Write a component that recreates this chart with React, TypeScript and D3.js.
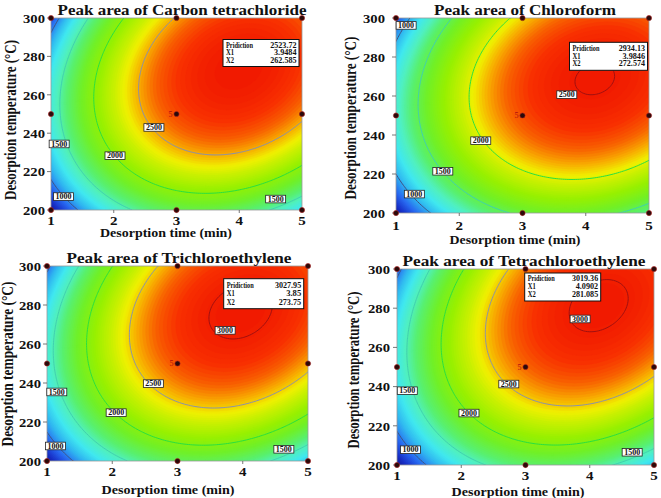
import React, { useMemo } from "react";
import * as d3 from "d3";

// ---------- data ----------
const timeTicks = [1, 2, 3, 4, 5];
const tempTicks = [200, 220, 240, 260, 280, 300];
const contourLevels = [1000, 1500, 2000, 2500, 3000];
const designTimes = [1, 3, 5];
const designTemps = [200, 250, 300];
const centerReplicates = "5";

const titles = [
  "Peak area of Carbon tetrachloride",
  "Peak area of Chloroform",
  "Peak area of Trichloroethylene",
  "Peak area of Tetrachloroethylene",
];

// readings off the contour map: [time (min), temperature (°C), peak area]
const ccl4Readings = [
  [2.89, 300, 2500], [2.37, 267, 2500], [2.65, 243, 2500], [2.99, 234, 2500], [3.69, 230.6, 2500], [5, 247, 2500],
  [2.14, 300, 2000], [1.61, 260, 2000], [2.04, 228, 2000], [3.0, 210, 2000], [5, 221, 2000],
  [1.48, 300, 1500], [1.19, 234, 1500], [4.58, 205.7, 1500],
  [1.22, 207, 1000], [1.12, 292, 1000],
  [1, 200, 650], [1, 300, 800], [5, 200, 1350], [5, 300, 2650],
];
const chloroformReadings = [
  [3.54, 266, 2500], [4.38, 266, 2500], [4.0, 274.4, 2500], [3.96, 258.1, 2500], [3.7, 260.7, 2500],
  [2.74, 300, 2000], [2.05, 259, 2000], [2.34, 237, 2000], [3.06, 224, 2000], [3.7, 221.4, 2000], [5, 230, 2000],
  [1.84, 300, 1500], [1.32, 249, 1500], [1.74, 221.4, 1500], [2.58, 204, 1500],
  [1.16, 296, 1000], [1.29, 209.7, 1000],
  [1, 200, 700], [1, 300, 750], [5, 200, 1450], [5, 300, 2250],
];
const tceReadings = [
  [3.58, 274.4, 3000], [4.01, 264.1, 3000], [4.47, 276, 3000], [3.73, 267, 3000],
  [2.76, 300, 2500], [2.24, 264, 2500], [2.63, 239.7, 2500], [3.66, 229, 2500], [5, 246, 2500],
  [1.95, 300, 2000], [1.49, 260.7, 2000], [2.06, 224.8, 2000], [3.04, 207.7, 2000],
  [1.31, 300, 1500], [1.15, 235.4, 1500], [4.63, 206, 1500],
  [1.13, 207.7, 1000], [1.1, 293, 1000],
  [1, 200, 600], [1, 300, 850], [5, 200, 1300], [5, 300, 2800],
];
const pceReadings = [
  [3.72, 280, 3000], [4.06, 272.4, 3000], [4.45, 285.2, 3000], [3.85, 274.5, 3000],
  [2.71, 300, 2500], [2.34, 263, 2500], [2.74, 241.3, 2500], [3.59, 231.6, 2500], [5, 245.2, 2500],
  [2.04, 300, 2000], [1.62, 263, 2000], [2.12, 226.5, 2000],
  [1.36, 300, 1500], [1.16, 237.9, 1500], [4.66, 206.5, 1500],
  [1.21, 207.8, 1000], [1.1, 293, 1000],
  [1, 200, 600], [1, 300, 850], [5, 200, 1300], [5, 300, 2900],
];

// contour label positions: [time, temperature, level]
const ccl4Labels = [[2.64, 243, 2500], [2.02, 228.3, 2000], [1.13, 234.4, 1500], [4.58, 205.7, 1500], [1.2, 207, 1000]];
const chloroformLabels = [[3.7, 260.7, 2500], [2.34, 237.1, 2000], [1.74, 221.4, 1500], [1.16, 296.2, 1000], [1.29, 209.7, 1000]];
const tceLabels = [[3.73, 267, 3000], [2.63, 239.7, 2500], [2.06, 224.8, 2000], [1.15, 235.4, 1500], [4.63, 206, 1500], [1.13, 207.7, 1000]];
const pceLabels = [[3.85, 274.5, 3000], [2.74, 241.3, 2500], [2.12, 226.5, 2000], [1.16, 237.9, 1500], [4.66, 206.5, 1500], [1.21, 207.8, 1000]];

const flagNames = ["Pridiction", "X1", "X2"];
const ccl4Flag = ["2523.72", "3.9484", "262.585"];
const chloroformFlag = ["2934.13", "3.9846", "272.574"];
const tceFlag = ["3027.95", "3.85", "273.75"];
const pceFlag = ["3019.36", "4.0902", "281.085"];

const readingsList = [ccl4Readings, chloroformReadings, tceReadings, pceReadings];
const labelsList = [ccl4Labels, chloroformLabels, tceLabels, pceLabels];
const flagsList = [ccl4Flag, chloroformFlag, tceFlag, pceFlag];

// ---------- layout / style ----------
const layouts = [
  { x0: 51, x1: 302, y0: 18, y1: 210, tX: 182, tY: 14.5, tW: 249, xlX: 166, xlY: 237, xlW: 132, ylX: 16, ylY: 120, ylW: 160, ytX: 45, xtY: 224.5, box: [223, 39.5, 76, 27] },
  { x0: 396, x1: 649, y0: 18, y1: 213, tX: 525, tY: 14.5, tW: 182, xlX: 515, xlY: 244, xlW: 131, ylX: 356, ylY: 118, ylW: 163, ytX: 385, xtY: 230, box: [569.5, 42.3, 78, 28] },
  { x0: 47, x1: 308, y0: 266, y1: 461, tX: 179, tY: 263, tW: 225, xlX: 168, xlY: 494, xlW: 133, ylX: 13, ylY: 364, ylW: 165, ytX: 41, xtY: 476, box: [223.7, 278.7, 80, 30] },
  { x0: 397, x1: 654, y0: 269, y1: 465, tX: 524, tY: 265.5, tW: 243, xlX: 518, xlY: 496, xlW: 133, ylX: 359, ylY: 370, ylW: 157, ytX: 390, xtY: 480, box: [524.7, 273, 76, 28] },
];

const colorFloor = 600;
const colorStops = [0, 0.07, 0.14, 0.22, 0.29, 0.36, 0.43, 0.52, 0.62, 0.7, 0.75, 0.81, 0.87, 0.93, 1];
const colorRange = ["#101088", "#1830c8", "#2868f0", "#30b8f0", "#40e8f0", "#50f0c0", "#58f070", "#70f028", "#98f000", "#c8f000", "#f0f000", "#f8a800", "#f86000", "#f83000", "#f01800"];
const FONT = "'Liberation Serif', 'Times New Roman', serif";

// ---------- model ----------
function basis(x: number, y: number) {
  const u = (x - 3) / 2;
  const v = (y - 250) / 50;
  return [1, u, v, u * u, v * v, u * v];
}

function fitQuadratic(readings: number[][]) {
  const n = 6;
  const M = Array.from({ length: n }, () => new Array(n + 1).fill(0));
  for (const [x, y, z] of readings) {
    const b = basis(x, y);
    for (let i = 0; i < n; i++) {
      for (let j = 0; j < n; j++) M[i][j] += b[i] * b[j];
      M[i][n] += b[i] * z;
    }
  }
  for (let c = 0; c < n; c++) {
    let p = c;
    for (let r = c + 1; r < n; r++) if (Math.abs(M[r][c]) > Math.abs(M[p][c])) p = r;
    [M[c], M[p]] = [M[p], M[c]];
    for (let r = 0; r < n; r++) {
      if (r === c) continue;
      const f = M[r][c] / M[c][c];
      for (let k = c; k <= n; k++) M[r][k] -= f * M[c][k];
    }
  }
  return M.map((row, i) => row[n] / row[i]);
}

const NX = 121;
const NY = 121;

function Panel({ idx }: { idx: number }) {
  const L = layouts[idx];
  const readings = readingsList[idx];
  const labels = labelsList[idx];
  const flag = flagsList[idx];

  const xs = d3.scaleLinear().domain([1, 5]).range([L.x0, L.x1]);
  const ys = d3.scaleLinear().domain([200, 300]).range([L.y1, L.y0]);

  const { bands, lines, zmin, zmax, color, norm } = useMemo(() => {
    const coef = fitQuadratic(readings);
    const f = (x: number, y: number) => basis(x, y).reduce((s, b, i) => s + b * coef[i], 0);
    const values: number[] = new Array(NX * NY);
    for (let j = 0; j < NY; j++) {
      const y = 300 - (j / (NY - 1)) * 100;
      for (let i = 0; i < NX; i++) {
        const x = 1 + (i / (NX - 1)) * 4;
        values[j * NX + i] = f(x, y);
      }
    }
    const [lo, hi] = d3.extent(values) as [number, number];
    const norm = d3.scaleLinear().domain([colorFloor, hi]).range([0, 1]).clamp(true);
    const cmap = d3.scaleLinear<string>().domain(colorStops).range(colorRange).interpolate(d3.interpolateRgb).clamp(true);
    const color = (z: number) => cmap(norm(z));
    const step = (hi - lo) / 90;
    const thr = d3.range(lo + step, hi, step);
    const bands = d3.contours().size([NX, NY]).thresholds(thr)(values);
    const lines = d3.contours().size([NX, NY]).thresholds(contourLevels.filter((l) => l > lo && l < hi))(values);
    return { bands, lines, zmin: lo, zmax: hi, color, norm };
  }, [idx]);

  const path = d3.geoPath(
    d3.geoTransform({
      point(gx: number, gy: number) {
        const x = 1 + ((gx - 0.5) / (NX - 1)) * 4;
        const y = 300 - ((gy - 0.5) / (NY - 1)) * 100;
        (this as any).stream.point(xs(x), ys(y));
      },
    })
  );

  const lineColor = (level: number) => {
    const t = norm(level);
    if (t >= 0.93) return "#a01010";
    if (t >= 0.75) return "#8a92aa";
    if (t >= 0.5) return "#28e040";
    if (t >= 0.25) return "#40d0b0";
    return "#405080";
  };

  const clipId = `clip${idx}`;
  const step = (zmax - zmin) / 90;
  const [bx, by, bw, bh] = L.box;

  return (
    <g>
      <defs>
        <clipPath id={clipId}>
          <rect x={L.x0} y={L.y0} width={L.x1 - L.x0} height={L.y1 - L.y0} />
        </clipPath>
      </defs>
      <g clipPath={`url(#${clipId})`}>
        <rect x={L.x0} y={L.y0} width={L.x1 - L.x0} height={L.y1 - L.y0} fill={color(zmin)} />
        {bands.map((b, i) => (
          <path key={i} d={path(b as any) || ""} fill={color(b.value + step / 2)} stroke={color(b.value + step / 2)} strokeWidth={0.3} />
        ))}
        {lines.map((c, i) => (
          <path key={"l" + i} d={path(c as any) || ""} fill="none" stroke={lineColor(c.value)} strokeWidth={1} />
        ))}
      </g>
      <rect x={L.x0} y={L.y0} width={L.x1 - L.x0} height={L.y1 - L.y0} fill="none" stroke="#9a9a9a" strokeWidth={0.8} />
      {tempTicks.map((t) => (
        <g key={"yt" + t}>
          <line x1={L.x0 - 4} x2={L.x0} y1={ys(t)} y2={ys(t)} stroke="#555" strokeWidth={0.8} />
          <text x={L.ytX} y={ys(t) + 4.8} textAnchor="end" fontFamily={FONT} fontWeight="bold" fontSize={13.5} textLength={22} lengthAdjust="spacingAndGlyphs" fill="#111">
            {t}
          </text>
        </g>
      ))}
      {timeTicks.map((t) => (
        <g key={"xt" + t}>
          <line x1={xs(t)} x2={xs(t)} y1={L.y1} y2={L.y1 + 3} stroke="#555" strokeWidth={0.8} />
          <text x={xs(t)} y={L.xtY} textAnchor="middle" fontFamily={FONT} fontWeight="bold" fontSize={12.5} textLength={7.5} lengthAdjust="spacingAndGlyphs" fill="#111">
            {t}
          </text>
        </g>
      ))}
      {labels.map(([x, y, lv], i) => (
        <g key={"cl" + i}>
          <rect x={xs(x) - 10} y={ys(y) - 3.8} width={20} height={7.6} fill="#fff" stroke="#222" strokeWidth={0.8} />
          <text x={xs(x)} y={ys(y) + 2.6} textAnchor="middle" fontFamily={FONT} fontWeight="bold" fontSize={7.5} textLength={16} lengthAdjust="spacingAndGlyphs" fill="#111">
            {lv}
          </text>
        </g>
      ))}
      {designTimes.map((dt) =>
        designTemps.map((dT) => (
          <circle key={`p${dt}-${dT}`} cx={xs(dt)} cy={ys(dT)} r={2.6} fill="#2a0a0a" stroke="#b02020" strokeWidth={0.6} />
        ))
      )}
      <text x={xs(3) - 4} y={ys(250) + 2.8} textAnchor="end" fontFamily={FONT} fontSize={8} fill="#b01010">
        {centerReplicates}
      </text>
      <rect x={bx} y={by} width={bw} height={bh} fill="#fff" stroke="#111" strokeWidth={1} />
      {flagNames.map((nm, i) => (
        <g key={"f" + i}>
          <text x={bx + 3} y={by + bh * (0.3 + 0.28 * i)} fontFamily={FONT} fontWeight="bold" fontSize={7.2} textLength={i === 0 ? 27 : 8} lengthAdjust="spacingAndGlyphs" fill="#111">
            {nm}
          </text>
          <text x={bx + bw - 2.5} y={by + bh * (0.3 + 0.28 * i)} textAnchor="end" fontFamily={FONT} fontWeight="bold" fontSize={7.2} textLength={flag[i].length * 3.75} lengthAdjust="spacingAndGlyphs" fill="#111">
            {flag[i]}
          </text>
        </g>
      ))}
      <text x={L.tX} y={L.tY} textAnchor="middle" fontFamily={FONT} fontWeight="bold" fontSize={15.5} textLength={L.tW} lengthAdjust="spacingAndGlyphs" fill="#111">
        {titles[idx]}
      </text>
      <text x={L.xlX} y={L.xlY} textAnchor="middle" fontFamily={FONT} fontWeight="bold" fontSize={12} textLength={L.xlW} lengthAdjust="spacingAndGlyphs" fill="#111">
        Desorption time (min)
      </text>
      <text transform={`translate(${L.ylX},${L.ylY}) rotate(-90)`} textAnchor="middle" fontFamily={FONT} fontWeight="bold" fontSize={16} textLength={L.ylW} lengthAdjust="spacingAndGlyphs" fill="#111">
        Desorption temperature (°C)
      </text>
    </g>
  );
}

export default function App() {
  return (
    <svg width={661} height={498} style={{ position: "absolute", left: 0, top: 0, background: "#fff" }}>
      <rect width={661} height={498} fill="#fff" />
      {[0, 1, 2, 3].map((i) => (
        <Panel key={i} idx={i} />
      ))}
    </svg>
  );
}
